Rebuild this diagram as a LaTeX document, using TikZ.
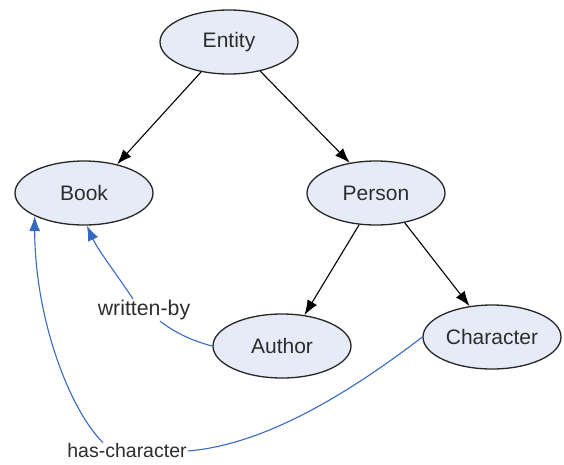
\documentclass[tikz,border=0pt]{standalone}
\usepackage{fontspec}
\setmainfont{Liberation Sans}
\usetikzlibrary{arrows.meta,shapes.geometric}
\definecolor{nodefill}{RGB}{230,236,247}
\definecolor{relblue}{RGB}{55,105,195}
\definecolor{txt}{RGB}{45,45,45}
\begin{document}
\begin{tikzpicture}[x=1pt,y=-1pt,
  concept/.style={ellipse,draw=black!85,line width=1.3pt,fill=nodefill,
    minimum width=138pt,minimum height=64pt,inner sep=0pt,
    font=\fontsize{21}{25}\selectfont,text=txt},
  isa/.style={draw=black,line width=1.1pt,-{Latex[length=15pt,width=11pt]}},
  relline/.style={draw=relblue,line width=1.1pt},
  rel/.style={relline,-{Latex[length=15pt,width=11pt]}},
  rellabel/.style={text=txt,fill=white,inner sep=1pt}]
\useasboundingbox (0,0) rectangle (564,464);
\node[concept] (entity) at (229,42) {Entity};
\node[concept] (book) at (84,193) {Book};
\node[concept] (person) at (376,193) {Person};
\node[concept] (author) at (282,346) {Author};
\node[concept] (character) at (492,337) {Character};
\node[rellabel,font=\fontsize{21.3}{25}\selectfont] (wb) at (144,310) {written-by};
\node[rellabel,font=\fontsize{19.5}{23}\selectfont] (hc) at (127,451) {has-character};

\draw[isa] (entity.-133) -- (book.41);
\draw[isa] (entity.-43) -- (person.131);
\draw[isa] (person.-118) -- (author.54);
\draw[isa] (person.-46) -- (character.126);

\draw[relline] (author.west) .. controls (192,341) and (174,332) .. ([xshift=16pt]wb.south);
\draw[rel] ([xshift=-11pt]wb.north) .. controls (115,272) and (98,250) .. (book.-85);

\draw[relline] (character.west) .. controls (340,400) and (260,445) .. (hc.east);
\draw[rel] ([xshift=-24pt]hc.north) .. controls (70,410) and (35,320) .. (book.-155);
\end{tikzpicture}
\end{document}
